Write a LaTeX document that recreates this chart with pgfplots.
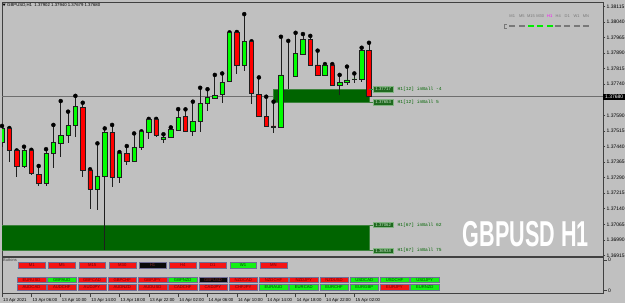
\documentclass[border=0pt]{standalone}
\usepackage{fontspec}
\setmainfont{Liberation Sans}
\newfontfamily\lmono{Liberation Mono}
\usepackage{graphicx}
\usepackage{pgfplots}
\pgfplotsset{compat=1.18}
\usepackage{pgfplotstable}
\definecolor{bg}{RGB}{192,192,192}
\definecolor{frame}{RGB}{64,64,64}
\definecolor{bull}{RGB}{0,255,0}
\definecolor{bear}{RGB}{255,0,0}
\definecolor{wick}{RGB}{30,30,30}
\definecolor{zone}{RGB}{0,100,0}
\definecolor{zoneedge}{RGB}{60,130,60}
\definecolor{zbox}{RGB}{30,105,30}
\definecolor{zboxedge}{RGB}{130,180,130}
\definecolor{zboxtext}{RGB}{205,225,205}
\definecolor{bidline}{RGB}{110,110,110}
\definecolor{bR}{RGB}{245,20,20}
\definecolor{bG}{RGB}{20,240,20}
\definecolor{bK}{RGB}{10,10,10}
\definecolor{tR}{RGB}{110,0,0}
\definecolor{tG}{RGB}{0,70,0}
\definecolor{tK}{RGB}{130,40,40}
\definecolor{bedge}{RGB}{110,110,150}
\definecolor{tfgray}{RGB}{120,120,120}
\definecolor{tfgreen}{RGB}{0,235,0}
\definecolor{tfmag}{RGB}{255,0,255}
\newcommand\fs[1]{\fontsize{#1}{#1}\selectfont}

\pgfplotstableread{
i O H L C
1 1.37462 1.37539 1.37437 1.37529
2 1.37527 1.37529 1.37367 1.37422
3 1.37420 1.37421 1.37291 1.37345
4 1.37343 1.37439 1.37338 1.37422
5 1.37423 1.37424 1.37303 1.37310
6 1.37306 1.37346 1.37250 1.37262
7 1.37262 1.37427 1.37251 1.37407
8 1.37408 1.37544 1.37335 1.37460
9 1.37457 1.37659 1.37391 1.37494
10 1.37496 1.37608 1.37455 1.37542
11 1.37544 1.37684 1.37487 1.37634
12 1.37629 1.37651 1.37294 1.37327
13 1.37327 1.37330 1.37138 1.37235
14 1.37234 1.37455 1.37134 1.37298
15 1.37296 1.37527 1.36941 1.37508
16 1.37508 1.37544 1.37243 1.37291
17 1.37291 1.37413 1.37265 1.37408
18 1.37408 1.37442 1.37351 1.37367
19 1.37367 1.37503 1.37365 1.37436
20 1.37434 1.37513 1.37423 1.37511
21 1.37508 1.37573 1.37475 1.37571
22 1.37571 1.37573 1.37487 1.37496
23 1.37477 1.37499 1.37455 1.37484
24 1.37486 1.37532 1.37484 1.37523
25 1.37520 1.37620 1.37516 1.37581
26 1.37584 1.37619 1.37508 1.37511
27 1.37511 1.37656 1.37491 1.37562
28 1.37560 1.37723 1.37511 1.37648
29 1.37646 1.37716 1.37613 1.37675
30 1.37672 1.37785 1.37670 1.37687
31 1.37692 1.37792 1.37648 1.37749
32 1.37752 1.37990 1.37750 1.37988
33 1.37988 1.37992 1.37789 1.37830
34 1.37830 1.38078 1.37806 1.37945
35 1.37945 1.37947 1.37644 1.37696
36 1.37693 1.37773 1.37582 1.37584
37 1.37584 1.37680 1.37536 1.37539
38 1.37539 1.37656 1.37503 1.37534
39 1.37532 1.37969 1.37530 1.37785
40 1.37785 1.37949 1.37716 1.37785
41 1.37780 1.37988 1.37773 1.37889
42 1.37885 1.37982 1.37883 1.37957
43 1.37957 1.37973 1.37828 1.37833
44 1.37833 1.37902 1.37779 1.37781
45 1.37781 1.37837 1.37779 1.37833
46 1.37833 1.37837 1.37731 1.37733
47 1.37733 1.37785 1.37689 1.37749
48 1.37751 1.37825 1.37737 1.37761
49 1.37762 1.37792 1.37747 1.37766
50 1.37765 1.37916 1.37752 1.37902
51 1.37902 1.37940 1.37679 1.37680
}\candles

\newcommand\zlabel[3]{%
  \draw[zoneedge, line width=0.5pt] (#1) -- ([xshift=4pt]#1);
  \node[anchor=west, fill=zbox, draw=zboxedge, line width=0.4pt, inner sep=0pt,
        minimum width=20pt, minimum height=5.5pt, font=\fs{4.3}, text=zboxtext]
        (zl) at ([xshift=4pt]#1) {#2};
  \node[anchor=west, inner sep=0pt, font=\lmono\fs{4.6}, text=zone]
        at ([xshift=4pt]zl.east) {#3};}

\begin{document}
\begin{tikzpicture}
\fill[bg] (0pt,0pt) rectangle (625pt,-303pt);

% ---------- main chart: zones, bid line, wicks, price scale
\begin{axis}[
  at={(2pt,-256pt)}, anchor=south west, scale only axis,
  width=601pt, height=254pt,
  xmin=1, xmax=82.88, ymin=1.3691217, ymax=1.3813645,
  axis line style={frame, line width=0.8pt},
  xtick=\empty,
  ytick={1.36915,1.3699,1.37065,1.3714,1.37215,1.3729,1.37365,1.3744,1.37515,1.3759,1.3774,1.37815,1.3789,1.37965,1.3804,1.38115},
  scaled y ticks=false,
  ytick pos=right, yticklabel pos=right,
  tick align=outside, major tick length=2.5pt,
  ytick style={frame, line width=0.5pt},
  yticklabel={\pgfmathprintnumber[fixed,fixed zerofill,precision=5,assume math mode=true]{\tick}},
  yticklabel style={font=\fs{5}, inner sep=1pt, text=black},
]
\addplot[bidline, line width=0.7pt] coordinates {(0,1.3768) (90,1.3768)};
\addplot[fill=zone, draw=zoneedge, line width=0.5pt] coordinates {(38,1.37717) (51,1.37717) (51,1.37653) (38,1.37653)} -- cycle;
\addplot[fill=zone, draw=zoneedge, line width=0.5pt] coordinates {(-2,1.37062) (51,1.37062) (51,1.36938) (-2,1.36938)} -- cycle;
\addplot[only marks, mark=none,
  error bars/.cd, y dir=minus, y explicit, error mark=none,
  error bar style={wick, line width=0.8pt}]
  table[x=i, y=H, y error minus expr={\thisrow{H}-\thisrow{L}}] {\candles};
\coordinate (zA1) at (axis cs:51,1.37717);
\coordinate (zA2) at (axis cs:51,1.37653);
\coordinate (zB1) at (axis cs:51,1.37062);
\coordinate (zB2) at (axis cs:51,1.36938);
\coordinate (bid) at (axis cs:82.88,1.3768);
\end{axis}

% ---------- candle bodies (same frame, prices in points above 1.36900)
\begin{axis}[
  at={(2pt,-256pt)}, anchor=south west, scale only axis,
  width=601pt, height=254pt,
  xmin=1, xmax=82.88, ymin=12.17, ymax=1236.45,
  hide axis, ybar stacked, bar width=4.4pt, bar shift=0pt,
]
\addplot[draw=none, fill=none] table[x=i, y expr={(min(\thisrow{O},\thisrow{C})-1.369)*100000}] {\candles};
\addplot[fill=bull, draw=wick, line width=0.6pt] table[x=i, y expr={max(\thisrow{C}-\thisrow{O},0)*100000}] {\candles};
\addplot[fill=bear, draw=wick, line width=0.6pt] table[x=i, y expr={max(\thisrow{O}-\thisrow{C},0)*100000}] {\candles};
\end{axis}

% ---------- Buttons subwindow with time axis
\begin{axis}[
  at={(2pt,-293pt)}, anchor=south west, scale only axis,
  width=601pt, height=35.5pt,
  xmin=1, xmax=82.88, ymin=0, ymax=1,
  axis line style={frame, line width=0.8pt},
  xtick={1,5,...,49},
  xticklabels={13 Apr 2021,13 Apr 06:00,13 Apr 10:00,13 Apr 14:00,13 Apr 18:00,13 Apr 22:00,14 Apr 02:00,14 Apr 06:00,14 Apr 10:00,14 Apr 14:00,14 Apr 18:00,14 Apr 22:00,15 Apr 02:00},
  ytick={0.065,0.93}, yticklabels={0,0},
  xtick pos=left, ytick pos=right, yticklabel pos=right,
  tick align=outside, major tick length=4pt,
  tick style={frame, line width=0.5pt},
  xticklabel style={anchor=north west, font=\fs{4.3}, inner sep=0pt, xshift=1pt, yshift=-1pt},
  yticklabel style={font=\fs{5}, inner sep=1pt},
]
\addplot[draw=none] coordinates {(1,0.5)};
\end{axis}

% ---------- labels and controls
\zlabel{zA1}{1.37717}{H1[12] inBall -4}
\zlabel{zA2}{1.37653}{H1[12] inBall 5}
\zlabel{zB1}{1.37062}{H1[67] inBall 62}
\zlabel{zB2}{1.36938}{H1[67] inBall 75}
\node[anchor=west, fill=black, text=white, font=\fs{5}, inner sep=0pt,
      minimum width=22pt, minimum height=6.4pt] at (bid) {1.37680};

\begin{scope}[x=1pt,y=-1pt]
  \fill[black] (2.6,3.6) -- (5.6,3.6) -- (4.1,6.0) -- cycle;
  \node[anchor=west, inner sep=0pt, font=\fs{4.3}] at (7,5) {GBPUSD,H1\ \ 1.37902 1.37940 1.37679 1.37680};
  % timeframe strip
  \foreach \lab/\x in {M1/512.2,M5/521.8,M15/531,M30/540.3,H4/558.3,D1/567.3,W1/576.7,MN/586}
    \node[text=tfgray, font=\fs{4}, inner sep=0pt] at (\x,16) {\lab};
  \node[text=tfmag, font=\fs{4}, inner sep=0pt] at (549.7,16) {H1};
  \foreach \x/\c in {512.2/tfgray,521.8/tfgray,531/tfgreen,540.3/tfgreen,549.7/tfgreen,558.3/tfgray,567.3/tfgray,576.7/tfgray,586/tfgray}
    \fill[\c] (\x-3,25.2) rectangle (\x+3,27.2);
  \draw[tfgray, line width=0.5pt] (507,24.4) -- (504.6,24.4) -- (504.6,27.8) -- (507,27.8);
  % big symbol text
  \node[text=white, inner sep=0pt, font=\bfseries\fs{36}] at (526,234) {\scalebox{0.6}[1]{GBPUSD H1}};
  % buttons
  \node[anchor=west, inner sep=0pt, font=\fs{4}, text=black!75] at (3,260) {Buttons};
  \foreach \lab/\fc/\tc [count=\k from 0] in {M1/bR/tR,M5/bR/tR,M15/bR/tR,M30/bR/tR,H1/bK/tK,H4/bR/tR,D1/bR/tR,W1/bG/tG,MN/bR/tR}{
    \pgfmathsetmacro\xl{18.3+30.2*\k}
    \draw[fill=\fc, draw=bedge, line width=0.4pt] (\xl,262.3) rectangle ++(26.8,6);
    \node[text=\tc, font=\fs{4.2}, inner sep=0pt] at (\xl+13.4,265.3) {\lab};
  }
  \foreach \lab/\fc/\tc [count=\k from 0] in {EURUSD/bR/tR,GBPAUD/bG/tG,GBPCAD/bR/tR,GBPCHF/bR/tR,GBPJPY/bR/tR,GBPNZD/bG/tG,GBPUSD/bK/tK,NZDCAD/bR/tR,NZDCHF/bR/tR,NZDJPY/bR/tR,NZDUSD/bR/tR,USDCAD/bG/tG,USDCHF/bG/tG,USDJPY/bG/tG}{
    \pgfmathsetmacro\xl{17.3+30.25*\k}
    \draw[fill=\fc, draw=bedge, line width=0.4pt] (\xl,276.7) rectangle ++(28.4,5.8);
    \node[text=\tc, font=\fs{4.2}, inner sep=0pt] at (\xl+14.2,279.6) {\lab};
  }
  \foreach \lab/\fc/\tc [count=\k from 0] in {AUDCAD/bR/tR,AUDCHF/bR/tR,AUDJPY/bR/tR,AUDNZD/bR/tR,AUDUSD/bR/tR,CADCHF/bR/tR,CADJPY/bR/tR,CHFJPY/bR/tR,EURAUD/bG/tG,EURCAD/bG/tG,EURCHF/bG/tG,EURGBP/bG/tG,EURJPY/bR/tR,EURNZD/bG/tG}{
    \pgfmathsetmacro\xl{17.3+30.25*\k}
    \draw[fill=\fc, draw=bedge, line width=0.4pt] (\xl,284.1) rectangle ++(28.4,5.8);
    \node[text=\tc, font=\fs{4.2}, inner sep=0pt] at (\xl+14.2,287) {\lab};
  }
\end{scope}

\pgfresetboundingbox
\useasboundingbox (0pt,0pt) rectangle (625pt,-303pt);
\end{tikzpicture}
\end{document}
